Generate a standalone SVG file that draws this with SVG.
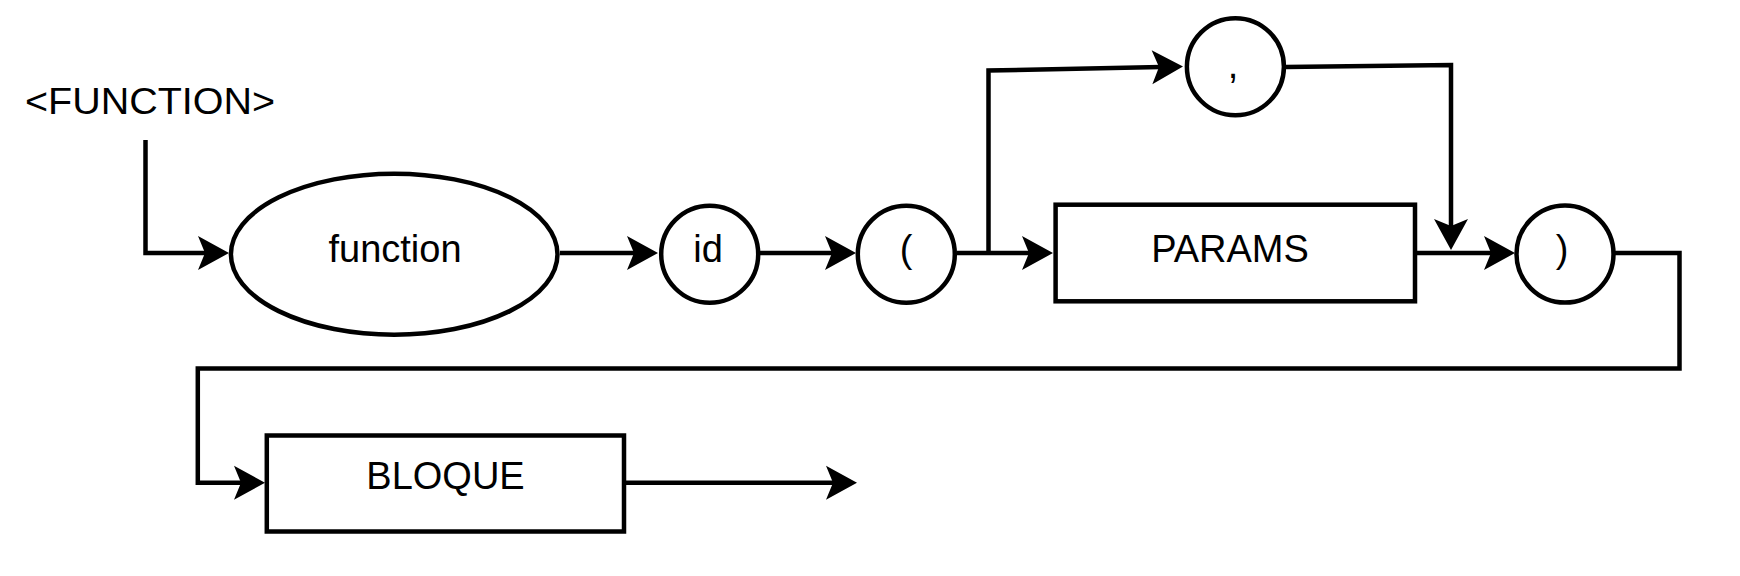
<svg xmlns="http://www.w3.org/2000/svg" width="1740" height="576" viewBox="0 0 1740 576">
<style>
.shape{fill:#ffffff;stroke:#000000;stroke-width:4.5}
.edge{fill:none;stroke:#000000;stroke-width:4.5;stroke-linejoin:miter;marker-end:url(#arrow)}
.lbl{font-family:"Liberation Sans",Arial,Helvetica,sans-serif;font-size:38px;fill:#000000;text-anchor:middle}
</style>
<defs>
<marker id="arrow" markerUnits="userSpaceOnUse" markerWidth="40" markerHeight="40" refX="0" refY="0" orient="auto" overflow="visible" viewBox="-25 -20 40 40">
<path d="M10,0 L-21,-17 L-14,0 L-21,17 Z" fill="#000000" stroke="none"/>
</marker>
</defs>
<rect width="1740" height="576" fill="#ffffff"/>
<g id="title">
<text x="25" y="114" font-family="Liberation Sans, Arial, sans-serif" font-size="36" textLength="250" lengthAdjust="spacingAndGlyphs">&lt;FUNCTION&gt;</text>
</g>
<g id="connectors">
<path class="edge" d="M145.5 140 V253 H219"/>
<path class="edge" d="M560 253 H648"/>
<path class="edge" d="M760 253 H846"/>
<path class="edge" d="M956.5 253 H1043"/>
<path class="edge" d="M988.5 253 V70.5 L1173 66.7"/>
<path class="edge" d="M1285.5 67 L1451 65 V240"/>
<path class="edge" d="M1417 253 H1505"/>
<path class="edge" d="M1615 253 H1679.5 V368.5 H197.8 V482.7 H255"/>
<path class="edge" d="M626 482.7 H847"/>
</g>
<g id="node-function">
<ellipse class="shape" cx="394.2" cy="254.2" rx="163.3" ry="80.5"/>
<text class="lbl" x="395" y="261.7">function</text>
</g>
<g id="node-id">
<circle class="shape" cx="709.7" cy="254.2" r="48.5"/>
<text class="lbl" x="708" y="261.7">id</text>
</g>
<g id="node-lparen">
<circle class="shape" cx="906.3" cy="254.2" r="48.5"/>
<text class="lbl" x="906" y="261.7">(</text>
</g>
<g id="node-comma">
<circle class="shape" cx="1235.4" cy="66.7" r="48.5"/>
<text class="lbl" x="1233" y="78">,</text>
</g>
<g id="node-params">
<rect class="shape" x="1055.6" y="204.7" width="359.4" height="96.6"/>
<text class="lbl" x="1230" y="261.7">PARAMS</text>
</g>
<g id="node-rparen">
<circle class="shape" cx="1565" cy="254" r="48.5"/>
<text class="lbl" x="1562" y="261.7">)</text>
</g>
<g id="node-bloque">
<rect class="shape" x="266.8" y="435.5" width="357.2" height="96"/>
<text class="lbl" x="445.5" y="489">BLOQUE</text>
</g>
</svg>
